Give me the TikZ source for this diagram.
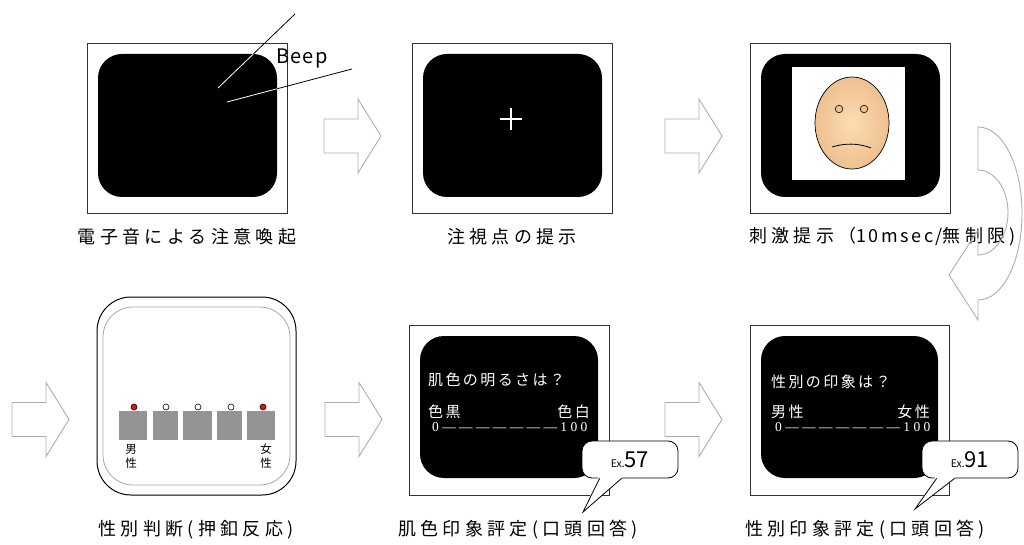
\documentclass[tikz,border=0pt]{standalone}
\usepackage{fontspec}
\newfontfamily\jp{Noto Sans CJK JP}
\newfontfamily\jplbl[LetterSpace=24]{Noto Sans CJK JP}
\newfontfamily\latlbl[LetterSpace=14]{Noto Sans CJK JP}
\newfontfamily\jpwide[LetterSpace=6]{Noto Sans CJK JP}
\newfontfamily\jpscr[LetterSpace=16]{Noto Sans CJK JP}
\newfontfamily\numscr[LetterSpace=25]{Liberation Serif}
\definecolor{lampred}{RGB}{228,22,12}
\definecolor{skin}{RGB}{238,192,146}
\definecolor{skinhi}{RGB}{253,220,178}
\begin{document}
\begin{tikzpicture}[x=1pt,y=-1pt,
  frame/.style={draw=black!80, line width=0.8pt, fill=white},
  screen/.style={fill=black, rounded corners=24pt},
  arrowline/.style={draw=black!32, line width=0.9pt, line join=miter},
  caption/.style={font=\jplbl\fontsize{18}{21}\selectfont, inner sep=0pt},
  scrtxt/.style={text=white, font=\jpscr\fontsize{15}{18}\selectfont, inner sep=0pt},
  scaletxt/.style={text=white, font=\numscr\fontsize{13.5}{16}\selectfont, inner sep=0pt, anchor=west},
  bubble/.style={draw=black, line width=0.8pt, fill=white, rounded corners=10pt,
                 minimum width=96pt, minimum height=37pt, inner sep=0pt},
  btn/.style={fill=black!42, draw=none},
  lamp/.style={draw=black, line width=0.6pt},
  btnlbl/.style={font=\jp\fontsize{11.5}{14}\selectfont, align=center, inner sep=0pt},
  blockarrow/.pic={\path[arrowline, fill=white] (0,-17) -- (34,-17) -- (34,-37) -- (57,0)
                   -- (34,37) -- (34,17) -- (0,17) -- cycle;},
]
\useasboundingbox (0,0) rectangle (1024,545);

% ---------- step 1: beep ----------
\path[frame] (87,43) rectangle (287,213);
\path[screen] (98,54) rectangle (277,197);
\draw[line width=0.8pt] (218,88) -- (295,14);
\draw[line width=0.8pt] (227,102) -- (352,69);
\begin{scope}
  \clip[rounded corners=24pt] (98,54) rectangle (277,197);
  \draw[white, line width=0.8pt] (218,88) -- (295,14);
  \draw[white, line width=0.8pt] (227,102) -- (352,69);
\end{scope}
\node[font=\jpwide\fontsize{20}{22}\selectfont, anchor=west, inner sep=0pt] (beep) at (276,58) {Beep};
\node[caption] (cap1) at (187,237) {電子音による注意喚起};

% ---------- step 2: fixation ----------
\path[frame] (412,43) rectangle (612,213);
\path[screen] (423,54) rectangle (602,197);
\node[inner sep=0pt, minimum size=22pt] (fix) at (511,119) {};
\draw[white, line width=1.3pt] (fix.west) -- (fix.east) (fix.north) -- (fix.south);
\node[caption] (cap2) at (512,237) {注視点の提示};

% ---------- step 3: face stimulus ----------
\path[frame] (750,43) rectangle (950,213);
\path[screen] (761,54) rectangle (940,197);
\fill[white] (792,67) rectangle (905,180);
\shade[inner color=skinhi, outer color=skin] (852,123) ellipse [x radius=37, y radius=46];
\draw[line width=0.7pt] (852,123) ellipse [x radius=37, y radius=46];
\draw[line width=0.6pt, fill=skin] (839,109) circle [radius=3.8];
\draw[line width=0.6pt, fill=skin] (864,109) circle [radius=3.8];
\draw[line width=0.8pt] (832,147) .. controls (845,143) and (858,143) .. (871,148);
\node[caption, anchor=east] (cap3) at (1016,237) {刺激提示（{\latlbl 10msec/}無制限)};

% turn-around arrow (outline only, the caption shows through)
\path[arrowline] (978,127) -- (978,170)
  .. controls (994.6,170) and (1008,189) .. (1008,212.5)
  .. controls (1008,236) and (994.6,255) .. (978,255)
  -- (978,230) -- (949,275) -- (978,320) -- (978,300)
  .. controls (1002.9,300) and (1022,261.3) .. (1022,213.5)
  .. controls (1022,165.7) and (1002.9,127) .. cycle;

% block arrows between steps
\pic at (324,136) {blockarrow};
\pic at (665,136) {blockarrow};
\pic at (12,419.5) {blockarrow};
\pic at (325,419.5) {blockarrow};
\pic at (665,419.5) {blockarrow};

% ---------- step 4: response box ----------
\draw[line width=1pt, rounded corners=34pt] (97,297) rectangle (296,495);
\draw[black!35, line width=0.8pt, rounded corners=30pt] (103,307) rectangle (290,485);
\path[btn] (119,411) rectangle (147,440);
\path[btn] (153,411) rectangle (178,440);
\path[btn] (183,411) rectangle (212,440);
\path[btn] (217,411) rectangle (242,440);
\path[btn] (247,411) rectangle (275,440);
\path[lamp, fill=lampred] (134,407) circle [radius=3];
\path[lamp, fill=white] (166,407) circle [radius=3];
\path[lamp, fill=white] (198,407) circle [radius=3];
\path[lamp, fill=white] (231,407) circle [radius=3];
\path[lamp, fill=lampred] (263,407) circle [radius=3];
\node[btnlbl] (male) at (131,456) {男\\性};
\node[btnlbl] (female) at (266,456) {女\\性};
\node[caption] (cap4) at (196,530) {性別判断(押釦反応)};

% ---------- step 5: skin tone rating ----------
\path[frame] (409,325) rectangle (609,495);
\path[screen] (420,336) rectangle (598,478);
\node[scrtxt, anchor=west] (q5) at (428,380) {肌色の明るさは？};
\node[scrtxt, anchor=west] (dark) at (428,412) {色黒};
\node[scrtxt, anchor=east] (light) at (590,412) {色白};
\node[scaletxt] (s5) at (432,427.5) {0———————100};
\node[bubble] (b57) at (630,459.5) {{\jp\fontsize{10.5}{12}\selectfont Ex.}{\jp\fontsize{22}{24}\selectfont 57}};
\coordinate (t57) at (583,512);
\fill[white] ([xshift=17pt,yshift=1.5pt]b57.south west) -- (t57) -- ([xshift=41pt,yshift=1.5pt]b57.south west) -- cycle;
\draw[line width=0.8pt] ([xshift=18pt]b57.south west) -- (t57) -- ([xshift=40pt]b57.south west);
\node[caption] (cap5) at (518,530) {肌色印象評定(口頭回答)};

% ---------- step 6: gender impression rating ----------
\path[frame] (750,325) rectangle (949,495);
\path[screen] (761,336) rectangle (938,478);
\node[scrtxt, anchor=west] (q6) at (771,382) {性別の印象は？};
\node[scrtxt, anchor=west] (masc) at (771,412) {男性};
\node[scrtxt, anchor=east] (fem) at (930,412) {女性};
\node[scaletxt] (s6) at (775,427.5) {0———————100};
\node[bubble] (b91) at (970,459.5) {{\jp\fontsize{10.5}{12}\selectfont Ex.}{\jp\fontsize{22}{24}\selectfont 91}};
\coordinate (t91) at (915,509);
\fill[white] ([xshift=14pt,yshift=1.5pt]b91.south west) -- (t91) -- ([xshift=34pt,yshift=1.5pt]b91.south west) -- cycle;
\draw[line width=0.8pt] ([xshift=15pt]b91.south west) -- (t91) -- ([xshift=33pt]b91.south west);
\node[caption] (cap6) at (865,530) {性別印象評定(口頭回答)};
\end{tikzpicture}
\end{document}
